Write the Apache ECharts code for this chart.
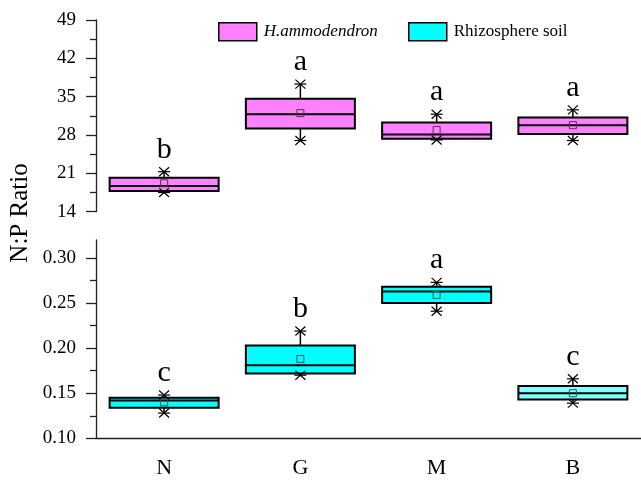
<!DOCTYPE html>
<html>
<head>
<meta charset="utf-8">
<script src="https://cdn.jsdelivr.net/npm/echarts@6/dist/echarts.min.js"></script>
<style>
html,body{margin:0;padding:0;background:#fff;}
#chart{width:641px;height:481px;}
</style>
</head>
<body>
<div id="chart"></div>
<script>
const categories = ['N', 'G', 'M', 'B'];

// H.ammodendron (top panel)
const plantMin    = [17.5, 27.0, 27.1, 27.0];
const plantQ1     = [17.8, 29.2, 27.3, 28.2];
const plantMedian = [18.7, 31.8, 28.1, 29.8];
const plantQ3     = [20.2, 34.6, 30.3, 31.2];
const plantMax    = [21.3, 37.3, 31.8, 32.6];
const plantMean   = [19.2, 32.0, 28.9, 29.8];
const plantLetters = ['b', 'a', 'a', 'a'];

// Rhizosphere soil (bottom panel)
const soilMin    = [0.128, 0.170, 0.241, 0.139];
const soilQ1     = [0.134, 0.172, 0.250, 0.143];
const soilMedian = [0.142, 0.181, 0.263, 0.150];
const soilQ3     = [0.145, 0.203, 0.268, 0.158];
const soilMax    = [0.148, 0.219, 0.273, 0.166];
const soilMean   = [0.140, 0.188, 0.259, 0.150];
const soilLetters = ['c', 'b', 'a', 'c'];

const topTicks = [14, 21, 28, 35, 42, 49];
const bottomTicks = [0.10, 0.15, 0.20, 0.25, 0.30];
const bottomMinorTicks = [0.125, 0.175, 0.225, 0.275];

// styles
const PINK = '#ff80ff';
const CYAN = '#00ffff';
const plantFills = [PINK, PINK, PINK, PINK];
const soilFills = [CYAN, CYAN, CYAN, '#80ffff'];
const FONT = '"Liberation Serif", "Times New Roman", serif';

function buildData(mn, q1, md, q3, mx, mean) {
  return categories.map((c, i) => [i, mn[i], q1[i], md[i], q3[i], mx[i], mean[i]]);
}

function star(x, y) {
  const s = { stroke: '#000', lineWidth: 1.2 };
  return [
    { type: 'line', shape: { x1: x - 6, y1: y, x2: x + 6, y2: y }, style: s },
    { type: 'line', shape: { x1: x - 5, y1: y - 4.5, x2: x + 5, y2: y + 4.5 }, style: s },
    { type: 'line', shape: { x1: x - 5, y1: y + 4.5, x2: x + 5, y2: y - 4.5 }, style: s }
  ];
}

function makeRender(fills, letters, meanStroke) {
  return function (params, api) {
    const i = api.value(0);
    const c = v => api.coord([i, v]);
    const w = api.size([1, 0])[0] * 0.8;
    const pMin = c(api.value(1)), pQ1 = c(api.value(2)), pMed = c(api.value(3));
    const pQ3 = c(api.value(4)), pMax = c(api.value(5)), pMean = c(api.value(6));
    const x = pMed[0];
    const blk = { stroke: '#000', lineWidth: 1.5 };
    const children = [];
    children.push({ type: 'line', shape: { x1: x, y1: pQ3[1], x2: x, y2: pMax[1] }, style: blk });
    children.push({ type: 'line', shape: { x1: x, y1: pQ1[1], x2: x, y2: pMin[1] }, style: blk });
    children.push({ type: 'rect', shape: { x: x - w / 2, y: pQ3[1], width: w, height: pQ1[1] - pQ3[1] },
      style: { fill: fills[i], stroke: '#000', lineWidth: 2 } });
    children.push({ type: 'line', shape: { x1: x - w / 2, y1: pMed[1], x2: x + w / 2, y2: pMed[1] },
      style: { stroke: '#000', lineWidth: 2 } });
    children.push({ type: 'rect', shape: { x: x - 3.5, y: pMean[1] - 3.5, width: 7, height: 7 },
      style: { fill: 'none', stroke: meanStroke, lineWidth: 1 } });
    children.push(...star(x, pMax[1]));
    children.push(...star(x, pMin[1]));
    children.push({ type: 'text', style: { text: letters[i], x: x, y: pMax[1] - 7,
      align: 'center', verticalAlign: 'bottom', font: '30px ' + FONT, fill: '#000' } });
    return { type: 'group', children: children };
  };
}

const axisLineStyle = { color: '#222', width: 1.3 };
const labelStyle = { color: '#000', fontFamily: FONT, fontSize: 19 };

const chart = echarts.init(document.getElementById('chart'));
chart.setOption({
  animation: false,
  backgroundColor: '#fff',
  grid: [
    { left: 96, top: 20, width: 548, height: 191.7 },
    { left: 96, top: 240, width: 548, height: 198.3 }
  ],
  legend: [
    { left: 213, top: 17, itemWidth: 38, itemHeight: 18, selectedMode: false,
      textStyle: { fontFamily: FONT, fontSize: 17, fontStyle: 'italic', color: '#000', padding: [0, 0, 0, 2] },
      data: [{ name: 'H.ammodendron', icon: 'rect', itemStyle: { color: PINK, borderColor: '#000', borderWidth: 1.5 } }] },
    { left: 403, top: 17, itemWidth: 38, itemHeight: 18, selectedMode: false,
      textStyle: { fontFamily: FONT, fontSize: 17, color: '#000', padding: [0, 0, 0, 2] },
      data: [{ name: 'Rhizosphere soil', icon: 'rect', itemStyle: { color: CYAN, borderColor: '#000', borderWidth: 1.5 } }] }
  ],
  xAxis: [
    { type: 'category', gridIndex: 0, data: categories, show: false },
    { type: 'category', gridIndex: 1, data: categories,
      axisLine: { lineStyle: axisLineStyle },
      axisTick: { alignWithLabel: true, length: 10, lineStyle: axisLineStyle },
      axisLabel: { color: '#000', fontFamily: FONT, fontSize: 22, margin: 19 } }
  ],
  yAxis: [
    { type: 'value', gridIndex: 0, min: topTicks[0], max: topTicks[topTicks.length - 1], interval: 7,
      axisLine: { show: true, lineStyle: axisLineStyle },
      axisTick: { show: true, length: 10, lineStyle: axisLineStyle },
      minorTick: { show: true, splitNumber: 2, length: 6, lineStyle: axisLineStyle },
      splitLine: { show: false },
      axisLabel: Object.assign({ margin: 20 }, labelStyle) },
    { type: 'value', gridIndex: 1, min: 0.10, max: 0.32, interval: 0.05, position: 'left',
      axisLine: { show: true, lineStyle: axisLineStyle },
      axisTick: { show: true, length: 10, lineStyle: axisLineStyle, customValues: bottomTicks },
      splitLine: { show: false },
      axisLabel: Object.assign({ margin: 20, customValues: bottomTicks, formatter: v => v.toFixed(2) }, labelStyle) },
    { type: 'value', gridIndex: 1, min: 0.10, max: 0.32, interval: 0.05, position: 'left',
      axisLine: { show: false },
      axisTick: { show: true, length: 6, lineStyle: axisLineStyle, customValues: bottomMinorTicks },
      splitLine: { show: false },
      axisLabel: { show: false } }
  ],
  graphic: [
    { type: 'text', x: 20, y: 213, rotation: Math.PI / 2,
      style: { text: 'N:P Ratio', align: 'center', verticalAlign: 'middle', font: '25px ' + FONT, fill: '#000' } }
  ],
  series: [
    { name: 'H.ammodendron', type: 'custom', xAxisIndex: 0, yAxisIndex: 0,
      itemStyle: { color: PINK },
      renderItem: makeRender(plantFills, plantLetters, '#553355'),
      encode: { x: 0, y: [1, 2, 3, 4, 5, 6] },
      data: buildData(plantMin, plantQ1, plantMedian, plantQ3, plantMax, plantMean) },
    { name: 'Rhizosphere soil', type: 'custom', xAxisIndex: 1, yAxisIndex: 1,
      itemStyle: { color: CYAN },
      renderItem: makeRender(soilFills, soilLetters, '#335555'),
      encode: { x: 0, y: [1, 2, 3, 4, 5, 6] },
      data: buildData(soilMin, soilQ1, soilMedian, soilQ3, soilMax, soilMean) }
  ]
});
</script>
</body>
</html>
